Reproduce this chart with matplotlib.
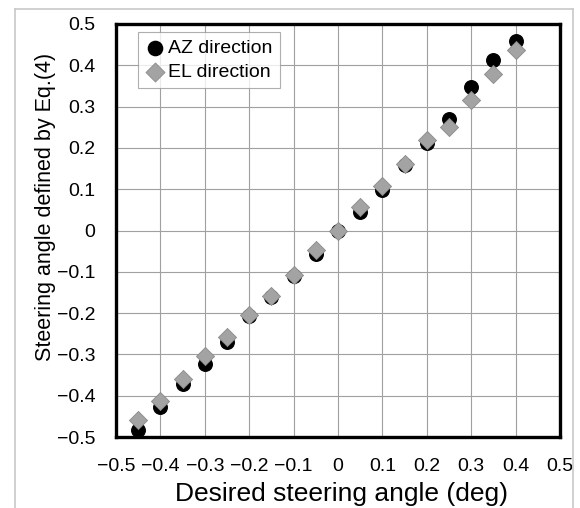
import numpy as np
import matplotlib
matplotlib.use("Agg")
import matplotlib.pyplot as plt
from matplotlib.lines import Line2D

# desired steering angle (deg)
desired = [-0.45, -0.40, -0.35, -0.30, -0.25, -0.20, -0.15, -0.10, -0.05,
           0.00, 0.05, 0.10, 0.15, 0.20, 0.25, 0.30, 0.35, 0.40]
# steering angle by Eq.(4), AZ direction
az = [-0.484, -0.427, -0.372, -0.324, -0.271, -0.208, -0.160, -0.110, -0.058,
      0.000, 0.045, 0.097, 0.158, 0.212, 0.270, 0.347, 0.412, 0.460]
# steering angle by Eq.(4), EL direction
el = [-0.460, -0.414, -0.360, -0.305, -0.257, -0.204, -0.159, -0.108, -0.048,
      0.000, 0.057, 0.107, 0.162, 0.218, 0.251, 0.317, 0.380, 0.436]

ticks = [-0.5, -0.4, -0.3, -0.2, -0.1, 0, 0.1, 0.2, 0.3, 0.4, 0.5]
tick_labels = ["\u22120.5", "\u22120.4", "\u22120.3", "\u22120.2", "\u22120.1",
               "0", "0.1", "0.2", "0.3", "0.4", "0.5"]

plt.rcParams["font.family"] = ["Liberation Sans", "DejaVu Sans"]
GRAY = "#a3a3a3"

fig = plt.figure(figsize=(5.8, 5.08), dpi=100)

# thin grey border of the original screenshot
BORDER = "#c8c8c8"
fig.add_artist(Line2D([15 / 580, 573 / 580], [1 - 9 / 508, 1 - 9 / 508],
                      transform=fig.transFigure, color=BORDER, lw=1.2))
fig.add_artist(Line2D([15 / 580, 15 / 580], [0, 1 - 9 / 508],
                      transform=fig.transFigure, color=BORDER, lw=1.2))
fig.add_artist(Line2D([573 / 580, 573 / 580], [0, 1 - 9 / 508],
                      transform=fig.transFigure, color=BORDER, lw=1.2))

ax = fig.add_axes([116 / 580, 1 - 437 / 508, 444 / 580, 413 / 508])
ax.scatter(desired, az, s=95, marker="o", color="black", zorder=3,
           label="AZ direction")
ax.scatter(desired, el, s=85, marker="D", color=GRAY, edgecolor="#8a8a8a",
           linewidths=0.6, zorder=4, label="EL direction")

ax.set_xlim(-0.5, 0.5)
ax.set_ylim(-0.5, 0.5)
ax.set_xticks(ticks)
ax.set_xticklabels(tick_labels)
ax.set_yticks(ticks)
ax.set_yticklabels(tick_labels)
ax.tick_params(length=0, labelsize=14)
ax.tick_params(axis="x", pad=15)
ax.tick_params(axis="y", pad=15)
ax.grid(True, color="#a0a0a0", lw=0.8)
ax.set_axisbelow(True)
for sp in ax.spines.values():
    sp.set_linewidth(2.4)
    sp.set_color("black")

ax.set_xlabel("Desired steering angle (deg)", fontsize=19)
ax.xaxis.set_label_coords(0.507, -0.108)
ax.set_ylabel("Steering angle defined by Eq.(4)", fontsize=15.5)
ax.yaxis.set_label_coords(-0.135, 0.558)

leg = ax.legend(loc="upper left", bbox_to_anchor=(0.05, 0.98), fontsize=14,
                frameon=True, fancybox=False, handletextpad=0.2,
                borderpad=0.35, labelspacing=0.35, handlelength=1.0,
                borderaxespad=0, markerscale=1.05)
leg.get_frame().set_edgecolor("#9a9a9a")
leg.get_frame().set_linewidth(0.8)

fig.savefig("out.png", dpi=100)
